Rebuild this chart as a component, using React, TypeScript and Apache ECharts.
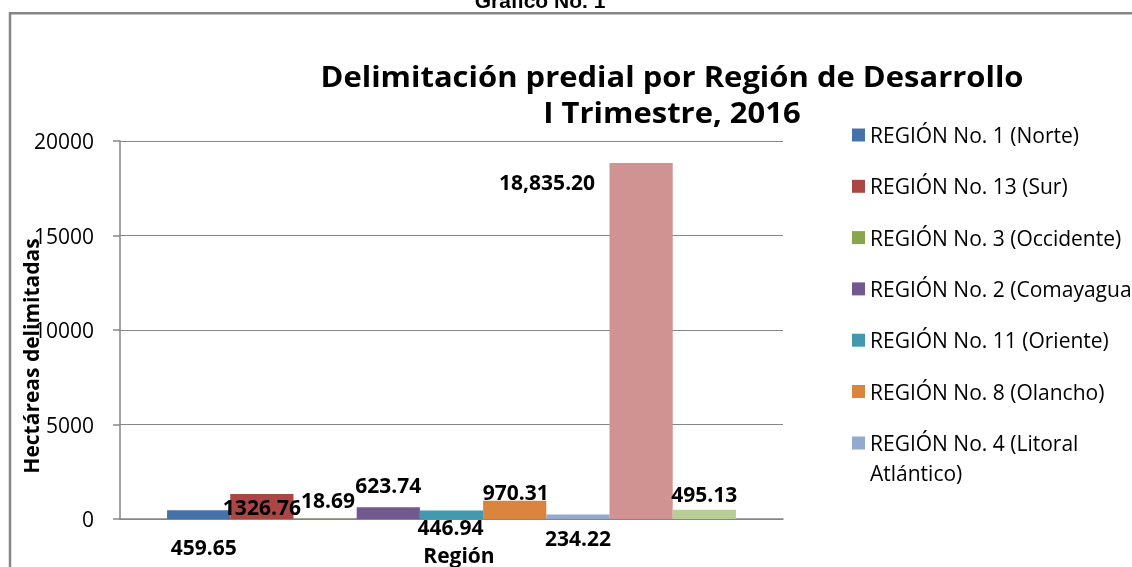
import React, { useEffect, useRef } from "react";
import * as echarts from "echarts";

const categories = ["Región"];
const seriesNames = [
  "REGIÓN No. 1 (Norte)",
  "REGIÓN No. 13 (Sur)",
  "REGIÓN No. 3 (Occidente)",
  "REGIÓN No. 2 (Comayagua)",
  "REGIÓN No. 11 (Oriente)",
  "REGIÓN No. 8 (Olancho)",
  "REGIÓN No. 4 (Litoral Atlántico)",
  "Serie 8",
  "Serie 9",
];
const values = [459.65, 1326.76, 18.69, 623.74, 446.94, 970.31, 234.22, 18835.2, 495.13];
const valueLabels = ["459.65", "1326.76", "18.69", "623.74", "446.94", "970.31", "234.22", "18,835.20", "495.13"];
const legendMain = seriesNames.slice(0, 6);
const legendLast = seriesNames.slice(6, 7);
const yMin = 0;
const yMax = 20000;
const yInterval = 5000;

const colors = ["#4572A7", "#AA4643", "#89A54E", "#71588F", "#4198AF", "#DB843D", "#93A9CF", "#D19392", "#B9CD96"];
// label offsets relative to the top of each bar (x, y in px)
const labelOffsets = [[5, 37], [0, 13], [3, -19], [0, -22], [-1, 16], [1, -9], [0, 23], [-94, 19], [0, -16]];

const FONT = '"Open Sans", "Noto Sans", sans-serif';
const titleLine1 = "Delimitación predial por Región de Desarrollo";
const titleLine2 = "I Trimestre, 2016";

function measure(text: string, font: string): number {
  const c = document.createElement("canvas");
  const ctx = c.getContext("2d");
  if (!ctx) return 0;
  ctx.font = font;
  return ctx.measureText(text).width;
}

export default function App() {
  const ref = useRef<HTMLDivElement>(null);
  useEffect(() => {
    if (!ref.current) return;
    const chart = echarts.init(ref.current, null, { renderer: "svg" });
    const titleSize = 29;
    const w1 = measure(titleLine1, `bold ${titleSize}px "Open Sans"`) || 730;
    const titleScale = 703 / w1;

    const series = values.map((v, i) => ({
      type: "bar",
      name: seriesNames[i],
      data: [v],
      barGap: "0%",
      barCategoryGap: "14.2%",
      itemStyle: { color: colors[i] },
      label: {
        show: true,
        position: "top",
        distance: 0,
        align: "center",
        verticalAlign: "middle",
        offset: labelOffsets[i],
        formatter: () => valueLabels[i],
        fontFamily: FONT,
        fontWeight: "bold",
        fontSize: 21,
        lineHeight: 21,
        color: "#000",
      },
    }));

    const legendCommon = {
      orient: "vertical",
      left: 852,
      padding: 0,
      itemWidth: 13,
      itemHeight: 13,
      icon: "rect",
      textStyle: { fontFamily: FONT, fontSize: 21, color: "#000", lineHeight: 30 },
    };

    chart.setOption({
      animation: false,
      color: colors,
      textStyle: { fontFamily: FONT },
      grid: {
        left: 120,
        top: 141,
        width: 663,
        height: 378,
        containLabel: false,
        outerBoundsMode: "none",
      },
      xAxis: {
        type: "category",
        data: categories,
        axisLabel: { show: false },
        axisTick: { show: false },
        axisLine: { lineStyle: { color: "#868686", width: 1.5 } },
        name: "Región",
        nameLocation: "middle",
        nameGap: 36,
        nameTextStyle: {
          fontFamily: FONT,
          fontWeight: "bold",
          fontSize: 21,
          lineHeight: 21,
          color: "#000",
          verticalAlign: "middle",
          padding: [0, 0, 0, 15],
        },
      },
      yAxis: {
        type: "value",
        min: yMin,
        max: yMax,
        interval: yInterval,
        axisLine: { show: true, lineStyle: { color: "#868686", width: 1.5 } },
        axisTick: { show: true, length: 7, lineStyle: { color: "#868686", width: 1.5 } },
        splitLine: { lineStyle: { color: "#868686", width: 1 } },
        axisLabel: {
          fontFamily: FONT,
          fontSize: 21,
          color: "#000",
          margin: 26,
          formatter: (v: number) => String(v),
        },
      },
      legend: [
        {
          ...legendCommon,
          top: 120,
          itemGap: 21.3,
          data: legendMain,
        },
        {
          ...legendCommon,
          top: 398,
          data: legendLast,
          formatter: (n: string) => "\n" + n.replace(" Atlántico", "\nAtlántico"),
        },
      ],
      graphic: [
        {
          type: "rect",
          silent: true,
          z: -10,
          shape: { x: 10, y: 13.3, width: 1300, height: 800 },
          style: { fill: "none", stroke: "#868686", lineWidth: 2.5 },
        },
        {
          type: "text",
          x: 540,
          y: 0,
          style: {
            text: "Gráfico No. 1",
            font: 'bold 21px "Liberation Sans", Arial, sans-serif',
            fill: "#000",
            align: "center",
            verticalAlign: "middle",
          },
        },
        {
          type: "text",
          x: 672,
          y: 76,
          scaleX: titleScale,
          style: {
            text: titleLine1,
            font: `bold ${titleSize}px "Open Sans", sans-serif`,
            fill: "#000",
            align: "center",
            verticalAlign: "middle",
          },
        },
        {
          type: "text",
          x: 672,
          y: 112,
          scaleX: titleScale,
          style: {
            text: titleLine2,
            font: `bold ${titleSize}px "Open Sans", sans-serif`,
            fill: "#000",
            align: "center",
            verticalAlign: "middle",
          },
        },
        {
          type: "text",
          x: 31,
          y: 356,
          rotation: Math.PI / 2,
          z: 100,
          style: {
            text: "Hectáreas delimitadas",
            font: 'bold 21px "Open Sans", sans-serif',
            fill: "#000",
            align: "center",
            verticalAlign: "middle",
          },
        },
      ],
      series,
    });
    return () => chart.dispose();
  }, []);
  return <div ref={ref} style={{ position: "fixed", left: 0, top: 0, width: 1132, height: 567 }} />;
}
